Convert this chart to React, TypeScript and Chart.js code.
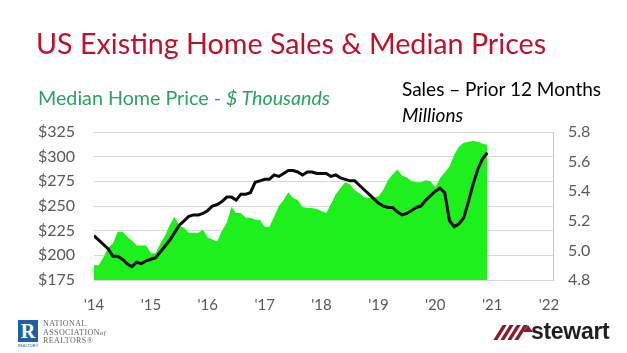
import React, { useEffect, useRef } from 'react';
import { Chart, registerables } from 'chart.js';

Chart.register(...registerables);

const startYear = 2014;
const yearTicks = [2014, 2015, 2016, 2017, 2018, 2019, 2020, 2021, 2022];
const priceTicks = [175, 200, 225, 250, 275, 300, 325];
const salesTicks = [4.8, 5.0, 5.2, 5.4, 5.6, 5.8];

// Median home price, $ thousands, monthly Jan 2014 – Dec 2020
const priceThousands = [
  190, 190, 198, 208, 212, 224, 224, 219, 215, 210, 210, 210,
  202, 202, 212, 220, 231, 239, 230, 228, 223, 223, 223, 226,
  218, 216, 214, 225, 233, 249, 243, 243, 238, 238, 236, 236,
  229, 229, 239, 250, 256, 264, 258, 256, 249, 248, 248, 247,
  245, 243, 252, 262, 268, 274, 272, 266, 263, 259, 258, 258,
  260, 266, 276, 282, 287, 281, 279, 275, 274, 274, 276, 275,
  269, 278, 284, 290, 302, 310, 314, 315, 316, 315, 313, 312,
];

// Existing home sales, prior 12 months, millions
const salesMillions = [
  5.10, 5.07, 5.04, 5.01, 4.96, 4.96, 4.94, 4.91, 4.89, 4.92, 4.91, 4.93,
  4.94, 4.95, 4.99, 5.03, 5.07, 5.12, 5.17, 5.20, 5.23, 5.24, 5.24, 5.25,
  5.27, 5.30, 5.31, 5.33, 5.36, 5.36, 5.34, 5.38, 5.38, 5.39, 5.46, 5.47,
  5.48, 5.48, 5.51, 5.50, 5.52, 5.54, 5.54, 5.53, 5.51, 5.53, 5.53, 5.52,
  5.52, 5.52, 5.50, 5.51, 5.49, 5.48, 5.47, 5.47, 5.44, 5.41, 5.38, 5.35,
  5.32, 5.30, 5.29, 5.29, 5.26, 5.24, 5.25, 5.27, 5.29, 5.30, 5.34, 5.37,
  5.40, 5.42, 5.39, 5.20, 5.16, 5.18, 5.22, 5.33, 5.45, 5.55, 5.62, 5.66,
];

const FONT = 'Lato, "Open Sans", sans-serif';

function ChartView() {
  const ref = useRef<HTMLCanvasElement | null>(null);
  useEffect(() => {
    if (!ref.current) return;
    const pricePts = priceThousands.map((v, i) => ({ x: startYear + i / 12, y: v }));
    const salesPts = salesMillions.map((v, i) => ({ x: startYear + i / 12, y: v }));
    const chart = new Chart(ref.current, {
      type: 'line',
      data: {
        datasets: [
          {
            label: 'Sales',
            data: salesPts,
            yAxisID: 'ySales',
            borderColor: '#0a0a0a',
            borderWidth: 3,
            pointRadius: 0,
            fill: false,
            order: 0,
            tension: 0,
          },
          {
            label: 'Price',
            data: pricePts,
            yAxisID: 'yPrice',
            borderColor: '#1ef01e',
            backgroundColor: '#1ef01e',
            borderWidth: 0,
            pointRadius: 0,
            fill: 'start',
            order: 1,
            tension: 0,
          },
        ],
      },
      options: {
        animation: false,
        responsive: false,
        maintainAspectRatio: false,
        layout: { padding: { top: 132, left: 0, right: 0, bottom: 0 } },
        plugins: { legend: { display: false }, tooltip: { enabled: false } },
        scales: {
          x: {
            type: 'linear',
            min: 2014,
            max: 2022.07,
            afterBuildTicks: (scale: any) => {
              scale.ticks = yearTicks.map((v) => ({ value: v }));
            },
            afterFit: (scale: any) => {
              scale.height = 73;
            },
            grid: { display: false, drawTicks: false },
            border: { display: false },
            ticks: {
              padding: 16,
              color: '#595959',
              font: { family: FONT, size: 15 },
              maxRotation: 0,
              autoSkip: false,
              callback: (v: any) => "'" + String(v).slice(2),
            },
          },
          yPrice: {
            position: 'left',
            min: 175,
            max: 325,
            afterBuildTicks: (scale: any) => {
              scale.ticks = priceTicks.map((v) => ({ value: v }));
            },
            afterFit: (scale: any) => {
              scale.width = 94;
            },
            grid: { color: '#d9d9d9', lineWidth: 1, drawTicks: false },
            border: { display: false },
            ticks: {
              padding: 19,
              color: '#595959',
              font: { family: FONT, size: 16 },
              callback: (v: any) => '$' + v,
            },
          },
          ySales: {
            position: 'right',
            min: 4.8,
            max: 5.8,
            afterBuildTicks: (scale: any) => {
              scale.ticks = salesTicks.map((v) => ({ value: v }));
            },
            afterFit: (scale: any) => {
              scale.width = 74;
            },
            grid: { display: false, drawTicks: false },
            border: { display: true, color: '#a6d6d6', width: 1 },
            ticks: {
              padding: 15,
              color: '#595959',
              font: { family: FONT, size: 16 },
              callback: (v: any) => Number(v).toFixed(1),
            },
          },
        },
      },
    });
    return () => chart.destroy();
  }, []);
  return <canvas ref={ref} width={627} height={353} style={{ position: 'absolute', left: 0, top: 0 }} />;
}

const slash = (left: number) => (
  <div
    key={left}
    style={{ position: 'absolute', left, top: 325, width: 4, height: 15, background: '#8c1c2c', transform: 'skewX(-32deg)' }}
  />
);

export default function App() {
  return (
    <div style={{ position: 'fixed', left: 0, top: 0, width: 627, height: 353, background: '#fff', overflow: 'hidden', fontFamily: FONT }}>
      <ChartView />
      <div style={{ position: 'absolute', left: 36, top: 26, fontSize: 28.7, lineHeight: '34px', color: '#c0102a', whiteSpace: 'nowrap' }}>
        US Existing Home Sales &amp; Median Prices
      </div>
      <div style={{ position: 'absolute', left: 38, top: 86, fontSize: 19.7, lineHeight: '23px', color: '#2aa35e', whiteSpace: 'nowrap' }}>
        Median Home Price - <i>$ Thousands</i>
      </div>
      <div style={{ position: 'absolute', left: 402, top: 77, fontSize: 19, lineHeight: '23px', color: '#000', whiteSpace: 'nowrap' }}>
        Sales – Prior 12 Months
      </div>
      <div style={{ position: 'absolute', left: 402, top: 103, fontSize: 19, lineHeight: '23px', color: '#000', whiteSpace: 'nowrap', fontStyle: 'italic' }}>
        Millions
      </div>
      {/* NAR logo */}
      <div style={{ position: 'absolute', left: 18, top: 320, width: 20, height: 22, background: '#1f5fa6', color: '#fff', fontFamily: 'Liberation Serif, serif', fontWeight: 'bold', fontSize: 20, lineHeight: '22px', textAlign: 'center' }}>
        R
      </div>
      <div style={{ position: 'absolute', left: 18, top: 343, width: 20, fontSize: 4, lineHeight: '5px', color: '#1f5fa6', textAlign: 'center' }}>
        REALTOR®
      </div>
      <div style={{ position: 'absolute', left: 43, top: 320, fontFamily: 'Liberation Serif, serif', fontSize: 8, lineHeight: '8.5px', color: '#666', letterSpacing: 0.4 }}>
        <div>NATIONAL</div>
        <div>ASSOCIATION<i style={{ fontSize: 7 }}>of</i></div>
        <div>REALTORS®</div>
      </div>
      {/* stewart logo */}
      {[498, 505, 512, 519].map(slash)}
      <div style={{ position: 'absolute', left: 523, top: 325, width: 0, height: 0, borderLeft: '5px solid transparent', borderRight: '5px solid transparent', borderBottom: '7px solid #8c1c2c' }} />
      <div style={{ position: 'absolute', left: 531, top: 318, fontFamily: 'Liberation Sans, Arial, sans-serif', fontSize: 23, lineHeight: '26px', fontWeight: 'bold', color: '#231f20', letterSpacing: -0.3, whiteSpace: 'nowrap' }}>
        stewart
      </div>
    </div>
  );
}
